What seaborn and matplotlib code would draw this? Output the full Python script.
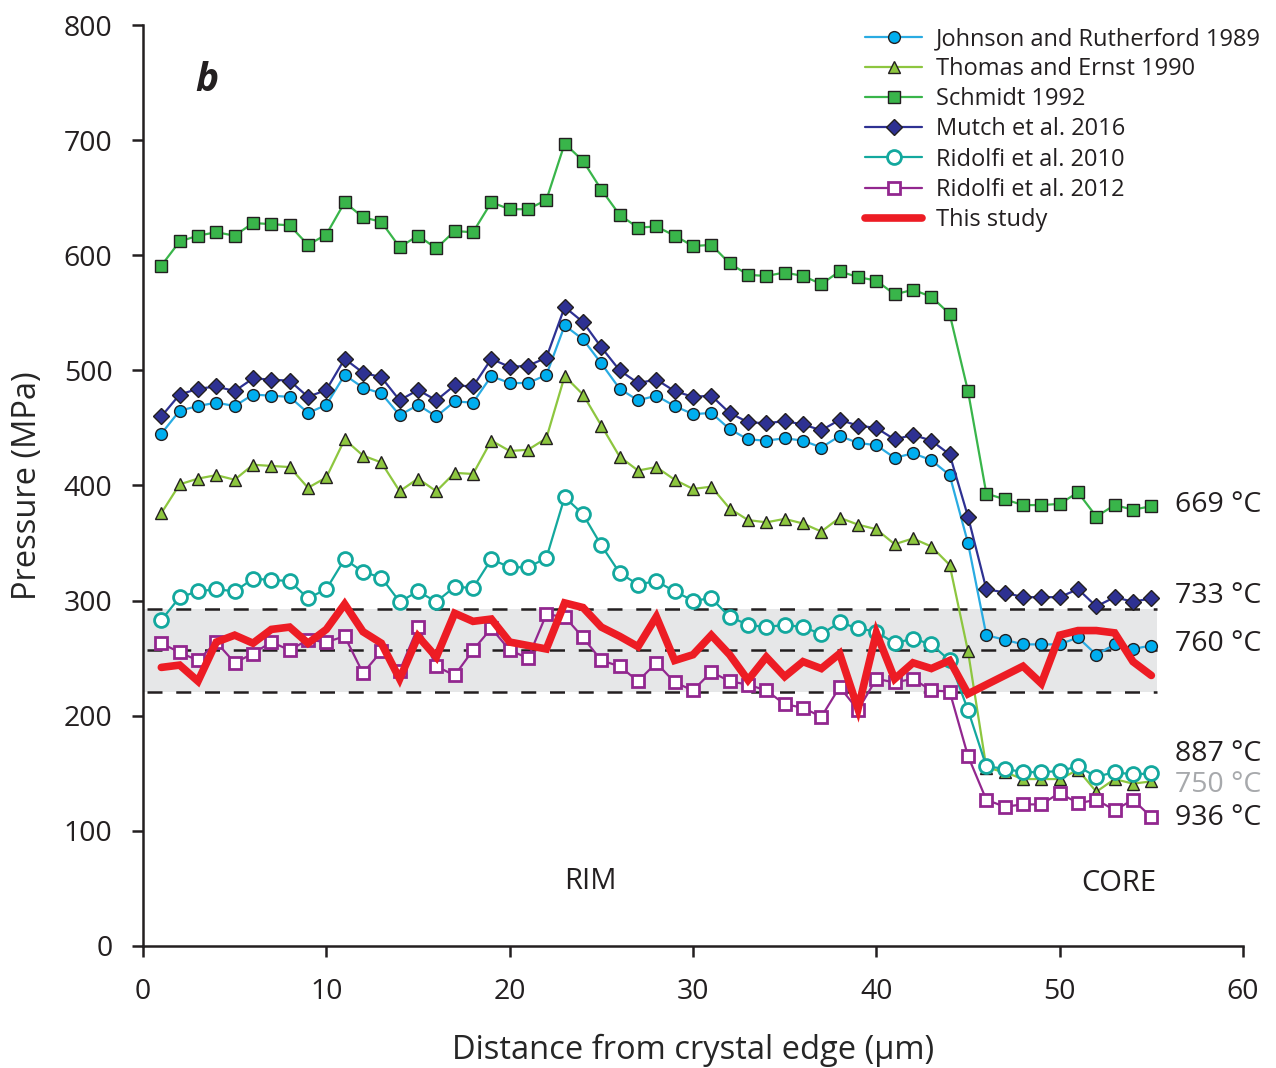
import matplotlib
matplotlib.use("Agg")
import matplotlib.pyplot as plt
import seaborn as sns
import numpy as np

# ---------------- data ----------------
distance = list(range(1, 56))

schmidt_1992 = [591, 612, 617, 620, 617, 628, 627, 626, 609, 618,
                646, 633, 629, 607, 617, 606, 621, 620, 646, 640,
                640, 648, 697, 682, 657, 635, 624, 625, 617, 608,
                609, 593, 583, 582, 585, 582, 575, 586, 581, 578,
                566, 570, 564, 549, 482, 393, 388, 383, 383, 384,
                394, 373, 383, 379, 382]

mutch_2016 = [460, 479, 484, 486, 482, 493, 492, 491, 477, 483,
              510, 498, 494, 474, 483, 474, 487, 486, 510, 503,
              504, 511, 555, 542, 520, 500, 489, 492, 482, 477,
              478, 463, 455, 454, 456, 453, 448, 457, 452, 450,
              440, 444, 439, 427, 373, 310, 307, 303, 303, 303,
              310, 295, 303, 299, 302]

johnson_1989 = [445, 465, 469, 472, 469, 479, 478, 477, 463, 470,
                496, 485, 480, 461, 470, 460, 473, 472, 495, 489,
                489, 496, 539, 527, 506, 484, 474, 478, 469, 462,
                463, 449, 440, 439, 441, 439, 433, 443, 437, 435,
                424, 428, 422, 409, 350, 270, 266, 262, 262, 262,
                268, 253, 262, 258, 261]

thomas_1990 = [376, 401, 406, 409, 405, 418, 417, 416, 398, 407,
               440, 426, 420, 395, 406, 395, 411, 410, 439, 430,
               431, 441, 495, 479, 452, 425, 413, 416, 405, 397,
               399, 380, 370, 368, 371, 367, 360, 372, 366, 362,
               349, 354, 347, 331, 256, 155, 151, 145, 145, 145,
               153, 134, 145, 141, 143]

ridolfi_2010 = [283, 303, 308, 310, 308, 319, 318, 317, 302, 310,
                336, 325, 320, 299, 308, 299, 312, 311, 336, 329,
                329, 337, 390, 375, 348, 324, 314, 317, 308, 300,
                302, 286, 279, 277, 279, 277, 271, 281, 276, 273,
                263, 267, 262, 248, 205, 156, 154, 151, 151, 152,
                156, 147, 151, 149, 150]

ridolfi_2012 = [263, 255, 248, 264, 246, 254, 264, 257, 266, 264,
                269, 237, 256, 239, 277, 243, 235, 257, 276, 257,
                250, 288, 286, 268, 248, 243, 230, 246, 229, 222,
                238, 230, 227, 222, 210, 207, 199, 225, 205, 232,
                229, 232, 222, 221, 165, 127, 121, 123, 123, 133,
                124, 127, 118, 127, 112]

this_study_x = list(range(1, 46)) + list(range(48, 56))
this_study = [242, 244, 230, 264, 270, 263, 275, 277, 263, 275,
              297, 273, 263, 232, 269, 251, 289, 282, 284, 264,
              261, 258, 298, 294, 277, 269, 260, 286, 248, 253,
              270, 253, 231, 251, 234, 247, 241, 254, 206, 272,
              232, 246, 241, 248, 219,
              243, 228, 270, 274, 274, 272, 247, 235]

band_levels = [221, 257, 293]
temp_labels = ["669 °C", "733 °C", "760 °C", "887 °C", "750 °C", "936 °C"]
temp_label_y = [383, 304, 262, 167, 140, 111]
temp_label_colors = ["#231f20", "#231f20", "#231f20", "#231f20", "#a7a9ac", "#231f20"]

# ---------------- style ----------------
sns.set_theme(style="ticks")
plt.rcParams["font.family"] = ["Open Sans", "DejaVu Sans"]
plt.rcParams["axes.edgecolor"] = "#231f20"
plt.rcParams["xtick.color"] = "#231f20"
plt.rcParams["ytick.color"] = "#231f20"
plt.rcParams["text.color"] = "#231f20"

fig = plt.figure(figsize=(12.76, 10.68), dpi=100)
ax = fig.add_axes([143 / 1276, 1 - 946 / 1068, 1100 / 1276, 921 / 1068])

# gray band with dashed lines
ax.axhspan(band_levels[0], band_levels[2], xmin=0, xmax=55.3 / 60,
           color="#e6e7e8", zorder=0, lw=0)
for lv in band_levels:
    ax.plot([0.2, 55.3], [lv, lv], color="#231f20", lw=1.8,
            dashes=(6, 5.5), zorder=1)

series = [
    ("Johnson and Rutherford 1989", johnson_1989, "o", "#29abe2", "#00aeef", "#231f20", 8.5, 1.6),
    ("Thomas and Ernst 1990", thomas_1990, "^", "#8dc63f", "#8dc63f", "#231f20", 9, 1.6),
    ("Schmidt 1992", schmidt_1992, "s", "#39b54a", "#39b54a", "#231f20", 8.5, 1.6),
    ("Mutch et al. 2016", mutch_2016, "D", "#2e3192", "#2e3192", "#231f20", 8.5, 1.6),
    ("Ridolfi et al. 2010", ridolfi_2010, "o", "#13a89e", "white", "#13a89e", 10, 1.6),
    ("Ridolfi et al. 2012", ridolfi_2012, "s", "#92278f", "white", "#92278f", 9, 1.6),
]

for name, vals, mk, lc, fc, ec, ms, lw in series:
    mew = 1.0 if fc != "white" else 2.0
    sns.lineplot(x=distance, y=vals, ax=ax, label=name, color=lc, lw=lw,
                 marker=mk, markersize=ms, markerfacecolor=fc,
                 markeredgecolor=ec, markeredgewidth=mew, zorder=3)

sns.lineplot(x=this_study_x, y=this_study, ax=ax, label="This study",
             color="#ed1c24", lw=5.5, zorder=4, solid_joinstyle="miter")

ax.set_xlim(0, 60)
ax.set_ylim(0, 800)
ax.set_xticks(range(0, 61, 10))
ax.set_yticks(range(0, 801, 100))
sns.despine(ax=ax)
for s in ["left", "bottom"]:
    ax.spines[s].set_linewidth(1.8)
ax.tick_params(axis="both", direction="out", length=8, width=1.8,
               labelsize=20.5)
ax.tick_params(axis="x", pad=15)
ax.tick_params(axis="y", pad=14)

ax.set_xlabel("Distance from crystal edge (µm)", fontsize=23.5, labelpad=20)
ax.set_ylabel("Pressure (MPa)", fontsize=23.5, labelpad=14)

# annotations
for t, yv, c in zip(temp_labels, temp_label_y, temp_label_colors):
    ax.text(56.3, yv, t, fontsize=20.5, color=c, va="center", ha="left",
            clip_on=False)
ax.text(24.4, 56, "RIM", fontsize=21, ha="center", va="center")
ax.text(53.2, 54, "CORE", fontsize=21, ha="center", va="center")
ax.text(3.5, 752, "b", fontsize=28, fontweight="bold", fontstyle="italic",
        ha="center", va="center")

leg = ax.legend(loc="upper right", bbox_to_anchor=(1.025, 1.008),
                frameon=False, fontsize=17, handlelength=2.4,
                labelspacing=0.26, handletextpad=0.6, borderaxespad=0)

fig.savefig("out.png", dpi=100)
